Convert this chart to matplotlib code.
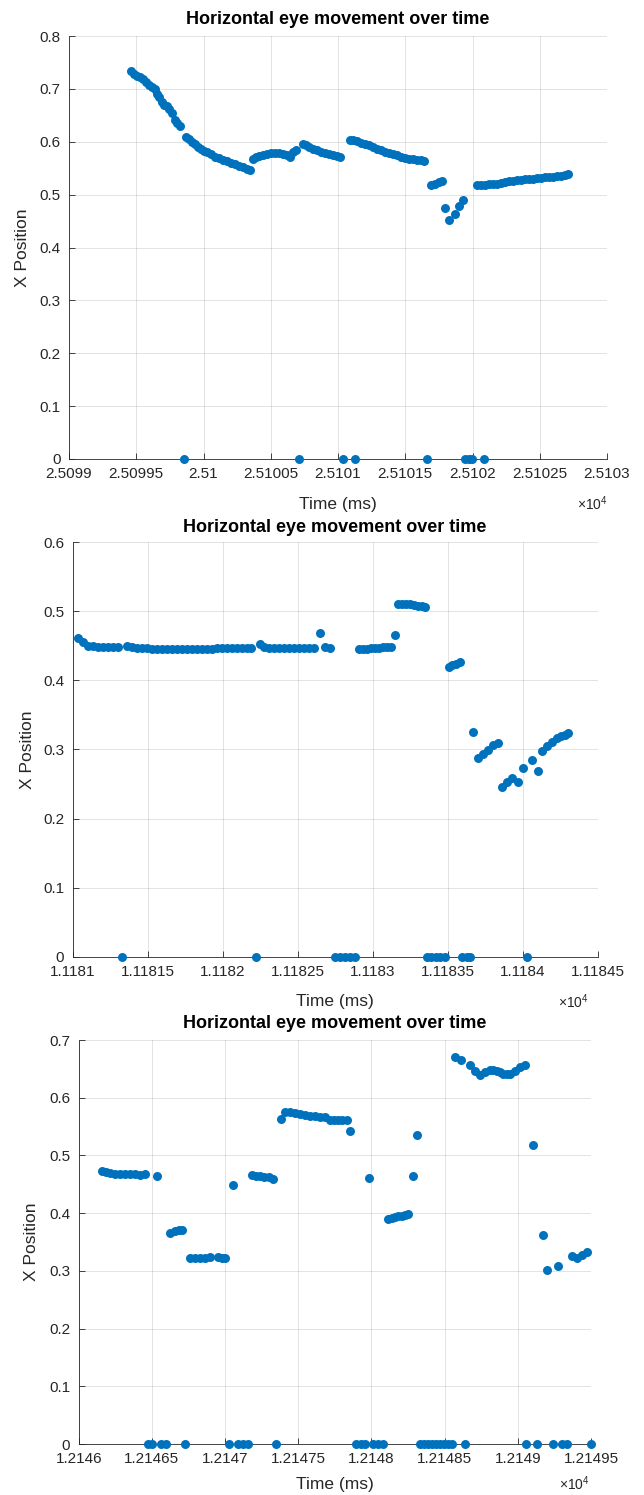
import matplotlib
matplotlib.use("Agg")
import matplotlib.pyplot as plt
from matplotlib.ticker import MultipleLocator, FuncFormatter

plt.rcParams['font.family'] = ['Liberation Sans', 'DejaVu Sans']
plt.rcParams['mathtext.default'] = 'regular'

BLUE = '#0072BD'
DARK = '#262626'
W, H = 644, 1495

title = "Horizontal eye movement over time"

# ---- panel 1 ----
t1 = [25099.461, 25099.483, 25099.505, 25099.528, 25099.550, 25099.572, 25099.594,
      25099.617, 25099.639, 25099.654, 25099.669, 25099.691, 25099.706, 25099.728,
      25099.743, 25099.765, 25099.788, 25099.802, 25099.825, 25099.869, 25099.892,
      25099.914, 25099.936, 25099.958, 25099.981, 25100.003, 25100.025, 25100.055,
      25100.085, 25100.114, 25100.144, 25100.174, 25100.204, 25100.233, 25100.263,
      25100.293, 25100.322, 25100.345,
      25100.367, 25100.389, 25100.412, 25100.441, 25100.471, 25100.501, 25100.530,
      25100.560, 25100.590, 25100.620, 25100.642, 25100.664, 25100.687,
      25100.739, 25100.761, 25100.783, 25100.813, 25100.843, 25100.872, 25100.902,
      25100.932, 25100.961, 25100.991, 25101.013,
      25101.088, 25101.110, 25101.140, 25101.169, 25101.199, 25101.229, 25101.259,
      25101.288, 25101.318, 25101.348, 25101.377, 25101.407, 25101.437, 25101.467,
      25101.496, 25101.526, 25101.556, 25101.585, 25101.615, 25101.637,
      25101.689, 25101.719, 25101.749, 25101.771, 25101.793, 25101.823, 25101.868,
      25101.897, 25101.927,
      25102.031, 25102.061, 25102.091, 25102.120, 25102.150, 25102.180, 25102.210,
      25102.239, 25102.269, 25102.299, 25102.328, 25102.358, 25102.388, 25102.417,
      25102.447, 25102.477, 25102.507, 25102.536, 25102.566, 25102.596, 25102.625,
      25102.655, 25102.685, 25102.707]
x1 = [0.733, 0.729, 0.725, 0.722, 0.718, 0.713, 0.708,
      0.704, 0.699, 0.691, 0.684, 0.676, 0.670, 0.667,
      0.661, 0.655, 0.642, 0.636, 0.629, 0.609, 0.605,
      0.600, 0.595, 0.591, 0.587, 0.583, 0.580, 0.576,
      0.572, 0.569, 0.566, 0.563, 0.560, 0.558, 0.555,
      0.552, 0.549, 0.547,
      0.568, 0.571, 0.573, 0.575, 0.577, 0.578, 0.578,
      0.578, 0.577, 0.574, 0.572, 0.580, 0.585,
      0.596, 0.594, 0.591, 0.587, 0.584, 0.581, 0.578,
      0.576, 0.574, 0.573, 0.572,
      0.604, 0.603, 0.601, 0.598, 0.596, 0.593, 0.590,
      0.587, 0.584, 0.581, 0.578, 0.576, 0.574, 0.572,
      0.570, 0.568, 0.567, 0.566, 0.565, 0.564,
      0.519, 0.521, 0.523, 0.525, 0.475, 0.452, 0.463,
      0.479, 0.490,
      0.519, 0.519, 0.519, 0.520, 0.521, 0.521, 0.522,
      0.524, 0.525, 0.526, 0.527, 0.528, 0.529, 0.530,
      0.530, 0.531, 0.532, 0.533, 0.533, 0.534, 0.535,
      0.536, 0.537, 0.539]
t1_zero = [25099.857, 25100.711, 25101.037, 25101.130, 25101.660, 25101.945,
           25101.976, 25101.998, 25102.085]

# ---- panel 2 ----
t2 = [11181.037, 11181.070, 11181.103, 11181.137, 11181.170, 11181.203, 11181.237,
      11181.270, 11181.303, 11181.363, 11181.397, 11181.430, 11181.463, 11181.497,
      11181.530, 11181.563, 11181.597, 11181.630, 11181.663, 11181.697, 11181.730,
      11181.763, 11181.797, 11181.830, 11181.863, 11181.897, 11181.930, 11181.963,
      11181.997, 11182.030, 11182.063, 11182.097, 11182.130, 11182.163, 11182.190,
      11182.250, 11182.277, 11182.310, 11182.343, 11182.377, 11182.410, 11182.443,
      11182.477, 11182.510, 11182.543, 11182.577, 11182.610, 11182.650, 11182.683,
      11182.717,
      11182.910, 11182.937, 11182.963, 11182.990, 11183.017, 11183.043, 11183.070,
      11183.097, 11183.123, 11183.150,
      11183.170, 11183.197, 11183.223, 11183.250, 11183.277, 11183.303, 11183.330,
      11183.350,
      11183.507, 11183.530, 11183.557, 11183.580,
      11183.672, 11183.705, 11183.739, 11183.772, 11183.805, 11183.839,
      11183.861, 11183.895, 11183.928, 11183.972, 11184.001,
      11184.065, 11184.105, 11184.128, 11184.161, 11184.195, 11184.228, 11184.257,
      11184.280, 11184.305]
x2 = [0.4605, 0.4556, 0.450, 0.449, 0.448, 0.448, 0.448,
      0.448, 0.448, 0.449, 0.448, 0.447, 0.447, 0.447,
      0.446, 0.446, 0.446, 0.445, 0.445, 0.445, 0.445,
      0.445, 0.446, 0.446, 0.446, 0.446, 0.446, 0.447,
      0.447, 0.447, 0.447, 0.447, 0.447, 0.447, 0.447,
      0.452, 0.448, 0.447, 0.447, 0.447, 0.447, 0.447,
      0.447, 0.447, 0.447, 0.447, 0.447, 0.469, 0.448,
      0.447,
      0.4455, 0.446, 0.446, 0.447, 0.447, 0.447, 0.448,
      0.448, 0.4485, 0.465,
      0.511, 0.511, 0.511, 0.510, 0.509, 0.508, 0.507,
      0.506,
      0.4195, 0.4215, 0.424, 0.4263,
      0.3255, 0.287, 0.294, 0.300, 0.306, 0.3095,
      0.246, 0.2533, 0.259, 0.2533, 0.2735,
      0.2847, 0.2688, 0.2981, 0.305, 0.3111, 0.316, 0.320,
      0.3215, 0.3241]
t2_zero = [11181.333, 11182.221, 11182.750, 11182.783, 11182.817, 11182.850,
           11182.883, 11183.363, 11183.393, 11183.423, 11183.453, 11183.483,
           11183.597, 11183.627, 11183.653, 11184.030]

# ---- panel 3 ----
t3 = [12146.157, 12146.187, 12146.214, 12146.248, 12146.282, 12146.316, 12146.350,
      12146.385, 12146.419, 12146.453, 12146.533,
      12146.624, 12146.658, 12146.682, 12146.704,
      12146.760, 12146.794, 12146.829, 12146.863, 12146.897, 12146.954, 12146.979,
      12146.999, 12147.056,
      12147.182, 12147.211, 12147.238, 12147.266, 12147.297, 12147.329,
      12147.382, 12147.409, 12147.443, 12147.478, 12147.512, 12147.546, 12147.580,
      12147.614, 12147.648, 12147.682, 12147.717, 12147.744, 12147.773, 12147.802,
      12147.831, 12147.852, 12147.985,
      12148.115, 12148.140, 12148.161, 12148.183, 12148.206, 12148.229, 12148.251,
      12148.281, 12148.313,
      12148.570, 12148.609, 12148.673, 12148.707, 12148.741, 12148.775, 12148.809,
      12148.832, 12148.855, 12148.878, 12148.900, 12148.923, 12148.946, 12148.980,
      12149.014, 12149.049,
      12149.105, 12149.169, 12149.201, 12149.272,
      12149.368, 12149.402, 12149.436, 12149.470]
x3 = [0.4723, 0.4705, 0.4694, 0.468, 0.467, 0.467, 0.4683,
      0.4675, 0.4665, 0.467, 0.4648,
      0.3653, 0.3683, 0.370, 0.3712,
      0.3227, 0.3227, 0.3227, 0.323, 0.3238, 0.3238, 0.323,
      0.322, 0.4492,
      0.4653, 0.4645, 0.4636, 0.4628, 0.4619, 0.4596,
      0.563, 0.576, 0.5745, 0.573, 0.572, 0.5705, 0.569,
      0.568, 0.567, 0.566, 0.5619, 0.5619, 0.5619, 0.5615,
      0.5607, 0.5421, 0.4607,
      0.3891, 0.3912, 0.393, 0.3943, 0.3955, 0.3966, 0.3977,
      0.4641, 0.5358,
      0.6704, 0.6659, 0.656, 0.6461, 0.6386, 0.6444, 0.6485,
      0.6473, 0.6461, 0.6438, 0.6416, 0.6410, 0.6404, 0.6461,
      0.653, 0.656,
      0.5185, 0.3614, 0.3007, 0.3076,
      0.3255, 0.3227, 0.3267, 0.333]
t3_zero = [12146.473, 12146.504, 12146.562, 12146.596, 12146.726, 12147.027,
           12147.088, 12147.122, 12147.156, 12147.348, 12147.894, 12147.928,
           12147.956, 12148.010, 12148.044, 12148.079, 12148.331, 12148.359,
           12148.386, 12148.413, 12148.441, 12148.468, 12148.495, 12148.523,
           12148.550, 12148.641, 12149.055, 12149.129, 12149.239, 12149.300,
           12149.336, 12149.499]

xlims = [(25099, 25103), (11181, 11184.5), (12146, 12149.5)]
ylims = [(0, 0.8), (0, 0.6), (0, 0.7)]

# axes boxes in pixels: left, top, right, bottom
boxes = [(69, 36, 607, 459), (72.5, 542, 597.5, 957), (78.7, 1040, 591, 1444)]
ylab_x = [23, 27.5, 32]
xlab_y = [504, 1002, 1484]
exp_x = [608, 589, 590]
title_y = [20, 527, 1024]


def draw_panel(fig, box, t, x, tz, xlim, ylim, yl_x, xl_y, ex_x, tt_y):
    l, top, r, b = box
    ax = fig.add_axes([l / W, 1 - b / H, (r - l) / W, (b - top) / H])
    ax.scatter(t, x, s=42, color=BLUE, linewidths=0, clip_on=False, zorder=3)
    ax.scatter(tz, [0] * len(tz), s=42, color=BLUE, linewidths=0, clip_on=False, zorder=3)
    ax.set_xlim(*xlim)
    ax.set_ylim(*ylim)
    ax.xaxis.set_major_locator(MultipleLocator(0.5))
    ax.yaxis.set_major_locator(MultipleLocator(0.1))
    ax.xaxis.set_major_formatter(FuncFormatter(lambda v, p: f"{v / 1e4:.6g}"))
    ax.yaxis.set_major_formatter(FuncFormatter(lambda v, p: f"{round(v, 1):g}"))
    for side in ['top', 'right']:
        ax.spines[side].set_visible(False)
    for side in ['left', 'bottom']:
        ax.spines[side].set_color(DARK)
        ax.spines[side].set_linewidth(0.6)
    ax.tick_params(direction='in', length=4, width=0.6, color=DARK,
                   labelcolor=DARK, labelsize=11, pad=6)
    ax.grid(True, color=DARK, alpha=0.15, linewidth=0.6)
    ax.set_axisbelow(True)

    ax.set_xlabel("Time (ms)", fontsize=12.5, color=DARK)
    ax.xaxis.set_label_coords(0.5, (b - xl_y) / (b - top))
    ax.xaxis.label.set_verticalalignment('center')
    ax.set_ylabel("X Position", fontsize=12.5, color=DARK)
    ax.yaxis.set_label_coords((yl_x - l) / (r - l), 0.5)
    ax.yaxis.label.set_verticalalignment('center')

    ax.set_title(title, fontsize=13, fontweight='bold', color='black',
                 y=1 + (top - tt_y) / (b - top), va='center', pad=0)
    ax.text((ex_x - l) / (r - l), (b - xl_y) / (b - top), r'$\times10^{4}$',
            transform=ax.transAxes, ha='right', va='center', fontsize=10, color=DARK)
    return ax


fig = plt.figure(figsize=(W / 100, H / 100), dpi=100)
data = [(t1, x1, t1_zero), (t2, x2, t2_zero), (t3, x3, t3_zero)]
for i in range(3):
    t, x, tz = data[i]
    draw_panel(fig, boxes[i], t, x, tz, xlims[i], ylims[i],
               ylab_x[i], xlab_y[i], exp_x[i], title_y[i])

fig.savefig("out.png", dpi=100)
